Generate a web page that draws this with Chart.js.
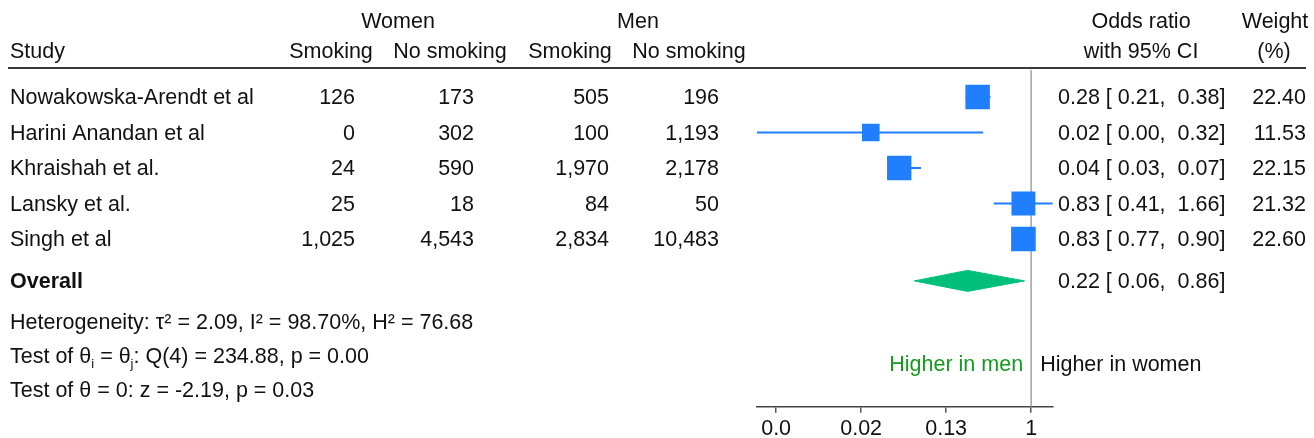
<!DOCTYPE html>
<html>
<head>
<meta charset="utf-8">
<title>Forest plot: smoking odds ratio, women vs men</title>
<script src="https://cdn.jsdelivr.net/npm/chart.js@4.4.1/dist/chart.umd.min.js"></script>
<style>
  html, body { margin: 0; padding: 0; background: #fff; }
  #wrap { width: 1314px; height: 438px; position: relative; }
</style>
</head>
<body>
<div id="wrap"><canvas id="forest"></canvas></div>
<script>
// ---- study data ----
const studies = ['Nowakowska-Arendt et al', 'Harini Anandan et al', 'Khraishah et al.', 'Lansky et al.', 'Singh et al'];
const womenSmoking   = [126, 0, 24, 25, 1025];
const womenNoSmoking = [173, 302, 590, 18, 4543];
const menSmoking     = [505, 100, 1970, 84, 2834];
const menNoSmoking   = [196, 1193, 2178, 50, 10483];
const oddsRatio = [0.284, 0.023, 0.0449, 0.834, 0.834];
const ciLower   = [0.214, 0.001, 0.034, 0.414, 0.774];
const ciUpper   = [0.384, 0.324, 0.0749, 1.664, 0.904];
const weights   = [22.40, 11.53, 22.15, 21.32, 22.60];
// pooled estimate: [OR, lower, upper]
const overallOR = [0.224, 0.064, 0.856];
// heterogeneity: [tau², I² (%), H²]
const heterogeneity = [2.09, 98.70, 76.68];
// Cochran's Q test: [df, Q, p]
const qTest = [4, 234.88, 0.00];
// test of overall effect: [z, p]
const zTest = [-2.19, 0.03];
// axis ticks (log odds) and their labels
const axisTicksLn = [-6, -4, -2, 0];
const axisTickLabels = ['0.0', '0.02', '0.13', '1'];

// ---- styling ----
const FONT = "'Liberation Sans', Arial, Helvetica, sans-serif";
const SIZE = 21.5;
const BLUE = '#1f7fff';
const GREEN = '#00bf7b';
const TEXT = '#111111';

const nStudies = studies.length;
const overallRow = nStudies + 1.18;
const yMin = 0.231, yMax = 9.724;

const fmt2 = v => v.toFixed(2);
const count = v => v.toLocaleString('en-US');
const pad5 = s => (s.length < 5 ? ' '.repeat(5 - s.length) : '') + s;
const ciText = (e, l, u) => `${fmt2(e)} [${pad5(fmt2(l))},  ${fmt2(u)}]`;
// square side grows with the square root of the study weight
const markerRadius = w => 3.66 * Math.sqrt(w);

const datasets = [];
datasets.push({
  label: 'No effect',
  data: [{ x: 1, y: yMin }, { x: 1, y: yMax }],
  showLine: true, borderColor: '#a3a3a3', borderWidth: 1.5, pointRadius: 0, order: 5
});
studies.forEach((s, i) => {
  datasets.push({
    label: s + ' 95% CI',
    data: [{ x: ciLower[i], y: i + 1 }, { x: ciUpper[i], y: i + 1 }],
    showLine: true, borderColor: BLUE, borderWidth: 2, pointRadius: 0, order: 3
  });
});
datasets.push({
  label: 'Study odds ratio',
  data: oddsRatio.map((v, i) => ({ x: v, y: i + 1 })),
  pointStyle: 'rect',
  pointRadius: ctx => markerRadius(weights[ctx.dataIndex]),
  backgroundColor: BLUE, borderColor: BLUE, borderWidth: 0, order: 2
});
const dh = 0.296;
datasets.push({
  label: 'Overall',
  data: [
    { x: overallOR[1], y: overallRow },
    { x: overallOR[0], y: overallRow - dh },
    { x: overallOR[2], y: overallRow },
    { x: overallOR[0], y: overallRow + dh },
    { x: overallOR[1], y: overallRow }
  ],
  showLine: true, fill: 'shape', tension: 0,
  backgroundColor: GREEN, borderColor: GREEN, borderWidth: 1, pointRadius: 0, order: 1
});

function drawRuns(ctx, x, y, runs) {
  let cx = x;
  runs.forEach(r => {
    ctx.font = `${r.sub ? 13 : SIZE}px ${FONT}`;
    ctx.fillText(r.t, cx, y + (r.sub ? 5 : 0));
    cx += ctx.measureText(r.t).width;
  });
}

const tablePlugin = {
  id: 'forestTable',
  afterDraw(chart) {
    const { ctx } = chart;
    const xs = chart.scales.x, ys = chart.scales.y;
    const row = v => ys.getPixelForValue(v) + 7.5;
    ctx.save();
    ctx.fillStyle = TEXT;
    ctx.textBaseline = 'alphabetic';
    ctx.font = `${SIZE}px ${FONT}`;

    // column headers
    const h1 = 27.5, h2 = 57.5;
    ctx.textAlign = 'center';
    ctx.fillText('Women', 398, h1);
    ctx.fillText('Men', 638, h1);
    ctx.fillText('Odds ratio', 1141, h1);
    ctx.fillText('Weight', 1275, h1);
    ctx.fillText('Smoking', 331, h2);
    ctx.fillText('No smoking', 450, h2);
    ctx.fillText('Smoking', 570, h2);
    ctx.fillText('No smoking', 689, h2);
    ctx.fillText('with 95% CI', 1141, h2);
    ctx.fillText('(%)', 1274, h2);
    ctx.textAlign = 'left';
    ctx.fillText('Study', 10, h2);

    // header rule
    ctx.strokeStyle = '#3a3a3a';
    ctx.lineWidth = 2;
    ctx.beginPath();
    ctx.moveTo(8, 68);
    ctx.lineTo(1306, 68);
    ctx.stroke();

    // study rows
    studies.forEach((s, i) => {
      const by = row(i + 1);
      ctx.textAlign = 'left';
      ctx.fillText(s, 10, by);
      ctx.textAlign = 'right';
      ctx.fillText(count(womenSmoking[i]), 355, by);
      ctx.fillText(count(womenNoSmoking[i]), 474, by);
      ctx.fillText(count(menSmoking[i]), 609, by);
      ctx.fillText(count(menNoSmoking[i]), 719, by);
      ctx.fillText(fmt2(weights[i]), 1306, by);
      ctx.textAlign = 'left';
      ctx.fillText(ciText(oddsRatio[i], ciLower[i], ciUpper[i]), 1058, by);
    });

    // overall row
    const oy = row(overallRow);
    ctx.textAlign = 'left';
    ctx.font = `bold ${SIZE}px ${FONT}`;
    ctx.fillText('Overall', 10, oy);
    ctx.font = `${SIZE}px ${FONT}`;
    ctx.fillText(ciText(overallOR[0], overallOR[1], overallOR[2]), 1058, oy);

    // heterogeneity and tests
    ctx.fillText(`Heterogeneity: τ² = ${fmt2(heterogeneity[0])}, I² = ${fmt2(heterogeneity[1])}%, H² = ${fmt2(heterogeneity[2])}`, 10, 328.5);
    drawRuns(ctx, 10, 362.5, [
      { t: 'Test of θ' }, { t: 'i', sub: true }, { t: ' = θ' }, { t: 'j', sub: true },
      { t: `: Q(${qTest[0]}) = ${fmt2(qTest[1])}, p = ${fmt2(qTest[2])}` }
    ]);
    ctx.font = `${SIZE}px ${FONT}`;
    ctx.fillText(`Test of θ = 0: z = ${fmt2(zTest[0])}, p = ${fmt2(zTest[1])}`, 10, 396.5);

    // direction labels around the line of no effect
    const x1 = xs.getPixelForValue(1);
    ctx.textAlign = 'right';
    ctx.fillStyle = '#149a1e';
    ctx.fillText('Higher in men', x1 - 8, 370.5);
    ctx.textAlign = 'left';
    ctx.fillStyle = TEXT;
    ctx.fillText('Higher in women', x1 + 9, 370.5);
    ctx.restore();
  }
};

new Chart(document.getElementById('forest'), {
  type: 'scatter',
  data: { datasets },
  options: {
    responsive: true,
    maintainAspectRatio: false,
    devicePixelRatio: 1,
    animation: false,
    events: [],
    layout: { padding: { left: 757, right: 261.2, top: 69.7, bottom: 0 } },
    plugins: { legend: { display: false }, tooltip: { enabled: false } },
    scales: {
      x: {
        type: 'logarithmic',
        min: Math.exp(-6.45),
        max: Math.exp(0.51),
        afterBuildTicks: s => { s.ticks = axisTicksLn.map(v => ({ value: Math.exp(v) })); },
        afterFit: s => { s.height = 31.3; },
        ticks: {
          autoSkip: false, maxRotation: 0, padding: 3, color: TEXT,
          font: { family: FONT, size: SIZE },
          callback: (v, i) => axisTickLabels[i]
        },
        grid: { drawOnChartArea: false, drawTicks: true, tickLength: 6, color: '#555', lineWidth: 1.5 },
        border: { display: true, color: '#444', width: 1.5 }
      },
      y: { type: 'linear', display: false, reverse: true, min: yMin, max: yMax }
    }
  },
  plugins: [tablePlugin]
});
</script>
</body>
</html>
